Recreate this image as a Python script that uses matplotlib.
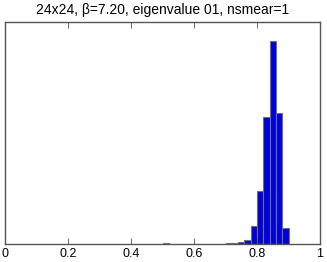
import matplotlib
matplotlib.use('Agg')
import matplotlib.pyplot as plt
import numpy as np

# histogram of eigenvalue 01, bins of width 0.02 (left edges)
bin_left = [0.50, 0.52, 0.68, 0.70, 0.72, 0.74, 0.76, 0.78, 0.80, 0.82, 0.84, 0.86, 0.88]
counts = [15, 5, 10, 15, 20, 47, 87, 359, 1080, 2568, 4109, 2655, 318]
bin_width = 0.02
xticks = [0, 0.2, 0.4, 0.6, 0.8, 1]
xticklabels = ['0', '0.2', '0.4', '0.6', '0.8', '1']
title = '24x24, \u03b2=7.20, eigenvalue 01, nsmear=1'

plt.rc('font', family='Liberation Sans')
plt.rc('axes', linewidth=1.0, edgecolor='#555555')

fig = plt.figure(figsize=(3.27, 2.62), dpi=100)
ax = fig.add_axes([5 / 327, 1 - 244 / 262, 315 / 327, 222 / 262])

ax.bar(bin_left, counts, width=bin_width, align='edge',
       color='#0000dd', edgecolor='#707070', linewidth=0.8)

ax.set_xlim(0, 1)
ax.set_ylim(0, 4500)
ax.set_xticks(xticks)
ax.set_xticklabels(xticklabels)
ax.set_yticks([])
ax.tick_params(axis='x', which='major', direction='in', length=4, width=0.6,
               top=True, labelsize=9, pad=3, colors='#555555', labelcolor='black')
ax.set_title(title, fontsize=10, pad=6)

plt.savefig('out.png', dpi=100)
